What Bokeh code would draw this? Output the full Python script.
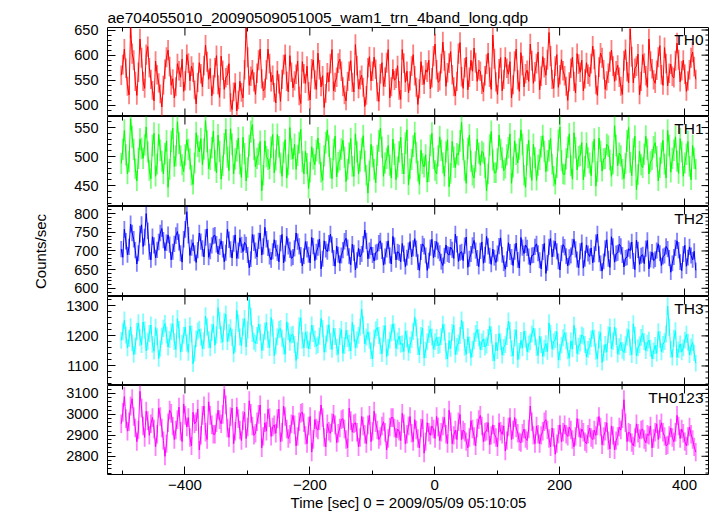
import numpy as np
from bokeh.plotting import figure
from bokeh.layouts import column
from bokeh.models import FixedTicker, LinearAxis, Label, Range1d
from bokeh.embed import file_html
from bokeh.resources import INLINE

# ---------------- data ----------------
title_text = "ae704055010_20090509051005_wam1_trn_4band_long.qdp"
x_label_text = "Time [sec] 0 = 2009/05/09 05:10:05"
y_label_text = "Counts/sec"
band_names = ["TH0", "TH1", "TH2", "TH3", "TH0123"]
band_colors = ["#ff0000", "#00ff00", "#0000ff", "#00ffff", "#ff00ff"]

t_start = -502.0      # time of first bin [s]
bin_width = 2.5       # bin width [s]
exposure = 1.5        # effective exposure used for error bars

th0 = [
    560, 581, 612, 574, 538, 521, 655, 603, 590, 548,
    520, 566, 632, 595, 548, 534, 601, 617, 575, 552,
    530, 509, 588, 561, 545, 523, 497, 540, 572, 596,
    610, 577, 540, 553, 515, 537, 583, 569, 556, 592,
    528, 549, 601, 584, 549, 578, 566, 531, 503, 546,
    585, 563, 537, 579, 620, 587, 552, 574, 519, 541,
    575, 599, 541, 516, 598, 570, 532, 555, 560, 583,
    506, 492, 527, 545, 489, 511, 548, 526, 515, 571,
    655, 596, 540, 558, 571, 547, 522, 564, 590, 612,
    553, 529, 534, 571, 612, 583, 547, 560, 526, 505,
    569, 543, 508, 552, 581, 601, 548, 527, 599, 566,
    535, 549, 562, 588, 519, 504, 587, 563, 544, 578,
    528, 511, 573, 590, 551, 532, 604, 571, 537, 559,
    496, 524, 565, 547, 583, 611, 529, 546, 556, 584,
    592, 568, 537, 521, 509, 548, 568, 589, 546, 527,
    621, 579, 533, 551, 560, 536, 498, 520, 575, 597,
    549, 568, 596, 572, 527, 508, 563, 585, 538, 556,
    585, 611, 515, 537, 572, 550, 554, 579, 530, 512,
    611, 584, 546, 568, 525, 549, 578, 601, 559, 536,
    502, 533, 587, 560, 542, 571, 566, 590, 533, 555,
    598, 622, 571, 546, 549, 583, 626, 589, 538, 565,
    584, 607, 561, 537, 519, 548, 603, 625, 557, 534,
    575, 596, 531, 556, 590, 568, 614, 585, 548, 571,
    568, 542, 527, 559, 582, 604, 556, 532, 640, 593,
    547, 522, 573, 595, 529, 552, 596, 574, 562, 587,
    515, 541, 588, 612, 551, 528, 605, 579, 537, 563,
    570, 548, 622, 589, 544, 567, 583, 606, 531, 558,
    597, 575, 560, 591, 645, 598, 552, 534, 578, 601,
    536, 561, 591, 569, 559, 538, 510, 547, 574, 596,
    548, 525, 603, 582, 566, 590, 529, 553, 585, 562,
    557, 583, 618, 592, 541, 520, 576, 604, 595, 571,
    532, 549, 564, 587, 610, 578, 548, 569, 580, 556,
    538, 522, 589, 611, 567, 545, 652, 597, 545, 574,
    578, 602, 521, 548, 601, 584, 559, 536, 632, 588,
    573, 551, 544, 570, 596, 619, 561, 540, 615, 583,
    539, 564, 582, 558, 555, 589, 624, 591, 547, 569,
    590, 562, 528, 549, 571, 595, 606, 577, 552,
]
th1 = [
    488, 512, 545, 503, 470, 491, 565, 534, 512, 479,
    458, 497, 530, 514, 497, 520, 551, 508, 476, 462,
    519, 540, 466, 487, 538, 511, 492, 470, 505, 527,
    447, 478, 526, 549, 483, 501, 560, 523, 501, 486,
    474, 503, 529, 512, 496, 468, 452, 489, 541, 518,
    508, 531, 486, 513, 562, 526, 479, 495, 515, 544,
    493, 472, 537, 509, 461, 484, 522, 547, 499, 476,
    548, 521, 470, 496, 510, 532, 487, 464, 533, 505,
    458, 481, 519, 543, 555, 512, 482, 497, 504, 526,
    441, 468, 527, 500, 495, 479, 516, 538, 472, 494,
    538, 517, 489, 466, 507, 529, 463, 486, 550, 513,
    496, 521, 478, 502, 524, 547, 491, 470, 509, 488,
    445, 473, 517, 496, 486, 510, 532, 505, 473, 459,
    501, 524, 546, 518, 480, 462, 512, 535, 465, 490,
    494, 513, 528, 499, 457, 478, 506, 531, 483, 466,
    539, 508, 470, 492, 514, 536, 492, 468, 437, 475,
    521, 500, 478, 455, 502, 527, 549, 516, 466, 489,
    497, 519, 485, 463, 530, 504, 460, 482, 508, 533,
    488, 470, 523, 546, 451, 479, 495, 518, 541, 507,
    475, 452, 511, 488, 482, 503, 456, 474, 519, 540,
    497, 476, 470, 501, 534, 511, 489, 466, 508, 529,
    448, 471, 526, 499, 481, 505, 503, 527, 559, 512,
    476, 454, 514, 537, 492, 468, 463, 491, 530, 506,
    485, 509, 506, 481, 441, 470, 520, 543, 494, 472,
    472, 496, 537, 512, 498, 476, 480, 503, 515, 539,
    454, 482, 527, 504, 489, 513, 546, 521, 468, 447,
    503, 528, 482, 459, 521, 498, 459, 485, 495, 517,
    536, 509, 474, 493, 510, 531, 487, 466, 452, 481,
    528, 551, 493, 470, 469, 496, 516, 539, 484, 461,
    541, 515, 477, 500, 502, 524, 460, 483, 523, 498,
    489, 467, 508, 530, 449, 474, 532, 509, 475, 496,
    497, 521, 518, 494, 466, 487, 553, 519, 484, 506,
    501, 478, 462, 488, 527, 550, 490, 467, 513, 535,
    443, 469, 509, 486, 481, 504, 535, 512, 470, 491,
    495, 517, 524, 500, 458, 481, 506, 528, 487, 463,
    545, 519, 473, 497, 511, 534, 492, 471, 531, 508,
    466, 489, 504, 526, 483, 460, 519, 497, 478,
]
th2 = [
    705, 683, 758, 726, 690, 711, 772, 748, 731, 702,
    665, 694, 745, 770, 712, 737, 800, 754, 698, 676,
    738, 715, 682, 703, 724, 748, 760, 729, 701, 722,
    743, 717, 676, 698, 719, 741, 752, 723, 694, 670,
    731, 758, 805, 742, 688, 709, 722, 694, 669, 702,
    748, 725, 707, 684, 736, 759, 683, 699, 715, 740,
    742, 718, 692, 711, 727, 704, 671, 695, 758, 730,
    704, 681, 720, 743, 680, 701, 735, 716, 698, 723,
    716, 689, 655, 678, 744, 722, 701, 684, 727, 748,
    689, 712, 763, 731, 708, 685, 676, 699, 730, 707,
    695, 671, 721, 744, 668, 693, 739, 712, 703, 680,
    684, 707, 748, 725, 712, 689, 660, 686, 725, 704,
    690, 668, 736, 713, 674, 698, 709, 732, 652, 679,
    727, 704, 698, 721, 745, 717, 681, 659, 713, 690,
    667, 688, 702, 726, 734, 709, 686, 663, 718, 695,
    649, 675, 707, 684, 692, 718, 756, 727, 679, 701,
    711, 689, 673, 696, 698, 721, 727, 700, 662, 685,
    704, 727, 688, 665, 739, 714, 676, 698, 695, 671,
    720, 693, 658, 682, 701, 725, 684, 707, 733, 706,
    670, 648, 697, 719, 712, 688, 648, 674, 709, 731,
    682, 705, 725, 701, 694, 671, 661, 687, 716, 692,
    689, 710, 703, 680, 745, 718, 672, 695, 698, 674,
    714, 737, 656, 679, 692, 715, 728, 701, 681, 658,
    700, 724, 667, 690, 739, 712, 687, 664, 705, 682,
    669, 693, 713, 735, 690, 667, 651, 678, 722, 697,
    684, 661, 698, 721, 676, 654, 736, 709, 693, 716,
    708, 685, 662, 688, 689, 711, 719, 694, 675, 652,
    697, 720, 640, 668, 711, 733, 684, 706, 726, 699,
    672, 649, 694, 717, 710, 686, 660, 683, 688, 711,
    731, 704, 677, 655, 699, 722, 654, 679, 716, 693,
    685, 708, 668, 691, 722, 745, 691, 667, 646, 672,
    707, 730, 679, 656, 738, 712, 670, 693, 695, 718,
    712, 689, 657, 681, 683, 706, 701, 724, 673, 650,
    729, 703, 664, 687, 690, 666, 706, 728, 652, 677,
    697, 674, 678, 701, 719, 694, 661, 685, 688, 712,
    705, 681, 643, 667, 684, 708, 727, 702, 670, 647,
    692, 715, 659, 682, 711, 688, 676, 699, 648,
]
th3 = [
    1185, 1214, 1252, 1203, 1160, 1191, 1230, 1177, 1138, 1166,
    1215, 1243, 1194, 1171, 1246, 1219, 1150, 1182, 1208, 1236,
    1172, 1149, 1228, 1197, 1125, 1158, 1199, 1225, 1241, 1203,
    1163, 1188, 1214, 1240, 1181, 1155, 1257, 1221, 1146, 1175,
    1202, 1229, 1176, 1145, 1233, 1206, 1107, 1142, 1190, 1216,
    1222, 1196, 1158, 1184, 1266, 1230, 1187, 1160, 1211, 1238,
    1169, 1203, 1294, 1251, 1204, 1180, 1248, 1272, 1181, 1210,
    1227, 1195, 1140, 1173, 1285, 1242, 1196, 1168, 1230, 1257,
    1163, 1219, 1320, 1264, 1208, 1182, 1175, 1201, 1239, 1212,
    1152, 1179, 1216, 1245, 1188, 1161, 1261, 1226, 1134, 1167,
    1197, 1221, 1224, 1192, 1166, 1139, 1247, 1215, 1179, 1203,
    1205, 1172, 1118, 1151, 1233, 1260, 1185, 1160, 1212, 1187,
    1157, 1184, 1236, 1208, 1190, 1166, 1171, 1199, 1258, 1224,
    1146, 1173, 1209, 1237, 1182, 1155, 1225, 1198, 1163, 1139,
    1198, 1221, 1142, 1168, 1218, 1191, 1176, 1150, 1245, 1209,
    1161, 1187, 1202, 1229, 1289, 1236, 1173, 1196, 1214, 1185,
    1150, 1124, 1193, 1219, 1228, 1201, 1167, 1141, 1207, 1234,
    1131, 1162, 1186, 1210, 1240, 1213, 1159, 1183, 1199, 1172,
    1174, 1148, 1216, 1190, 1145, 1169, 1188, 1215, 1262, 1227,
    1164, 1137, 1201, 1226, 1127, 1153, 1180, 1205, 1223, 1196,
    1156, 1181, 1195, 1168, 1170, 1197, 1238, 1212, 1149, 1123,
    1184, 1158, 1211, 1236, 1138, 1165, 1176, 1201, 1252, 1219,
    1162, 1139, 1197, 1170, 1128, 1156, 1183, 1208, 1221, 1194,
    1154, 1180, 1190, 1163, 1169, 1195, 1232, 1204, 1143, 1117,
    1178, 1151, 1207, 1181, 1136, 1162, 1171, 1198, 1249, 1218,
    1158, 1133, 1194, 1220, 1121, 1149, 1185, 1160, 1216, 1189,
    1147, 1173, 1180, 1206, 1226, 1197, 1161, 1135, 1199, 1171,
    1132, 1159, 1174, 1148, 1243, 1209, 1156, 1181, 1188, 1214,
    1120, 1146, 1169, 1194, 1211, 1184, 1150, 1126, 1183, 1157,
    1235, 1198, 1141, 1166, 1176, 1203, 1199, 1172, 1130, 1155,
    1165, 1190, 1218, 1192, 1148, 1123, 1187, 1211, 1112, 1143,
    1172, 1146, 1204, 1229, 1157, 1182, 1229, 1198, 1139, 1164,
    1178, 1152, 1145, 1171, 1196, 1221, 1163, 1137, 1240, 1203,
    1134, 1160, 1170, 1195, 1208, 1181, 1151, 1176, 1186, 1159,
    1124, 1150, 1168, 1142, 1214, 1188, 1147, 1172, 1181, 1206,
    1299, 1228, 1155, 1129, 1192, 1217, 1129, 1154, 1173, 1147,
    1160, 1186, 1205, 1179, 1137, 1163, 1178, 1144, 1109,
]
th0123 = [
    2955, 3010, 3085, 2980, 2920, 2965, 3040, 3075, 2990, 2935,
    2870, 2925, 3110, 3030, 2945, 2890, 3015, 2970, 2900, 2955,
    2985, 2930, 2845, 2905, 3030, 2990, 2935, 2875, 2800, 2860,
    2960, 3020, 3005, 2945, 2880, 2925, 2975, 3035, 2920, 2870,
    3050, 2995, 2940, 2985, 2890, 2850, 3010, 2955, 2965, 3025,
    2830, 2900, 2995, 3040, 2915, 2880, 3060, 2995, 2950, 2905,
    2905, 2960, 3020, 2975, 2955, 3000, 3120, 3045, 2935, 2890,
    2990, 3030, 2860, 2920, 3035, 2980, 2925, 2875, 2970, 3010,
    2885, 2940, 3065, 3005, 2945, 2900, 2910, 2965, 3000, 3045,
    2840, 2895, 2960, 2920, 3025, 2985, 2895, 2940, 2950, 2910,
    2980, 3025, 2870, 2915, 3040, 2990, 2930, 2885, 2905, 2955,
    2995, 2950, 2850, 2895, 2965, 3005, 3010, 2960, 2900, 2860,
    2945, 2990, 2820, 2880, 2975, 2935, 2925, 2970, 3045, 2985,
    2890, 2845, 2955, 2920, 2910, 2960, 3000, 2950, 2865, 2910,
    2935, 2975, 2980, 2930, 2880, 2840, 3030, 2970, 2915, 2955,
    2960, 2915, 2845, 2890, 2990, 2945, 2905, 2860, 2950, 2995,
    2870, 2920, 3015, 2960, 2925, 2880, 2895, 2945, 2965, 2915,
    2830, 2885, 2940, 2985, 2985, 2935, 2890, 2930, 2920, 2875,
    3005, 2955, 2860, 2905, 2945, 2990, 2910, 2870, 2975, 2925,
    2885, 2840, 2935, 2975, 2815, 2870, 2960, 2915, 2900, 2945,
    2930, 2885, 2990, 2940, 2875, 2915, 2945, 2985, 2905, 2860,
    3020, 2965, 2860, 2900, 2925, 2880, 2965, 3000, 2880, 2925,
    2915, 2870, 2840, 2890, 2970, 2930, 2895, 2850, 2935, 2975,
    2995, 2945, 2870, 2915, 2920, 2960, 2855, 2900, 2950, 2905,
    2890, 2845, 2960, 2920, 2905, 2945, 2825, 2875, 2940, 2985,
    2880, 2925, 2985, 2935, 2910, 2870, 2865, 2910, 2930, 2885,
    2875, 2930, 3040, 2965, 2900, 2860, 2945, 2905, 2860, 2900,
    2920, 2965, 2975, 2925, 2885, 2845, 2935, 2890, 2810, 2860,
    2905, 2950, 2870, 2915, 2950, 2905, 2895, 2940, 2925, 2880,
    2845, 2895, 2980, 2935, 2890, 2930, 2915, 2870, 2860, 2905,
    2935, 2890, 2880, 2925, 2900, 2945, 2990, 2940, 2855, 2895,
    2920, 2960, 2875, 2835, 2945, 2900, 2830, 2875, 2895, 2940,
    2925, 2980, 3070, 2960, 2870, 2915, 2910, 2865, 2850, 2890,
    2955, 2910, 2885, 2925, 2930, 2880, 2865, 2905, 2900, 2945,
    2840, 2885, 2915, 2955, 2880, 2930, 2960, 2915, 2895, 2850,
    2855, 2900, 2935, 2890, 2870, 2915, 2995, 2945, 2885, 2930,
    2910, 2870, 2850, 2895, 2940, 2905, 2880, 2845, 2820,
]
series = [th0, th1, th2, th3, th0123]

x_limits = (-524, 440)
x_major = [-400, -200, 0, 200, 400]
x_minor = [-500, -300, -100, 100, 300]
y_limits = [(478, 655), (414, 569), (578, 819), (1035, 1331), (2713, 3138)]
y_major = [
    [500, 550, 600, 650],
    [450, 500, 550],
    [600, 650, 700, 750, 800],
    [1100, 1200, 1300],
    [2800, 2900, 3000, 3100],
]
y_minor_step = [10, 10, 10, 20, 20]

# ---------------- layout / style ----------------
FONT = "Liberation Sans"
frame_w = 602
frame_hs = [89, 90, 90, 89, 89]
left_border = 107
top_border = 27
bottom_border = 41
MAJ = 8
MIN = 4


def style_axis(ax, size="14.5px"):
    ax.axis_line_color = None
    ax.major_tick_in = MAJ
    ax.major_tick_out = 0
    ax.minor_tick_in = MIN
    ax.minor_tick_out = 0
    ax.major_tick_line_color = "black"
    ax.minor_tick_line_color = "black"
    ax.major_label_text_font = FONT
    ax.major_label_text_font_size = size
    ax.major_label_text_color = "black"
    ax.major_label_standoff = 9
    return ax


def tick_rays(p, xs, ys, angle, length):
    p.ray(x=xs, y=ys, length=length, length_units="screen", angle=angle,
          line_color="black", line_width=1)


figs = []
for k in range(5):
    top = top_border if k == 0 else 0
    bottom = bottom_border if k == 4 else 0
    y0, y1 = y_limits[k]
    p = figure(
        width=left_border + frame_w, height=top + frame_hs[k] + bottom,
        frame_width=frame_w, frame_height=frame_hs[k],
        x_range=Range1d(*x_limits), y_range=Range1d(y0, y1),
        x_axis_location=None, y_axis_location=None,
        output_backend="svg", toolbar_location=None,
        min_border_left=left_border, min_border_right=0,
        min_border_top=top, min_border_bottom=bottom,
        background_fill_color="white", border_fill_color="white",
        outline_line_color="black", outline_line_width=1,
    )
    p.grid.visible = False

    ymin_ticks = list(range(int(np.ceil(y0 / y_minor_step[k]) * y_minor_step[k]),
                            int(y1) + 1, y_minor_step[k]))
    yt = FixedTicker(ticks=y_major[k], minor_ticks=ymin_ticks)
    xt = FixedTicker(ticks=x_major, minor_ticks=x_minor)

    lax = style_axis(LinearAxis(ticker=yt))
    if k == 2:
        lax.axis_label = y_label_text
        lax.axis_label_text_font = FONT
        lax.axis_label_text_font_size = "15px"
        lax.axis_label_text_font_style = "normal"
        lax.axis_label_text_color = "black"
        lax.axis_label_standoff = 22
    p.add_layout(lax, "left")

    # right-hand and top tick marks (inside the frame)
    tick_rays(p, [x_limits[1]] * len(y_major[k]), y_major[k], np.pi, MAJ)
    tick_rays(p, [x_limits[1]] * len(ymin_ticks), ymin_ticks, np.pi, MIN)
    tick_rays(p, x_major, [y1] * len(x_major), -np.pi / 2, MAJ)
    tick_rays(p, x_minor, [y1] * len(x_minor), -np.pi / 2, MIN)

    if k == 4:
        bax = style_axis(LinearAxis(ticker=xt), "15px")
        bax.major_label_overrides = {-400: "\u2212400", -200: "\u2212200"}
        bax.major_label_standoff = 5
        bax.axis_label = x_label_text
        bax.axis_label_text_font = FONT
        bax.axis_label_text_font_size = "15px"
        bax.axis_label_text_font_style = "normal"
        bax.axis_label_text_color = "black"
        bax.axis_label_standoff = 1
        p.add_layout(bax, "below")
    else:
        tick_rays(p, x_major, [y0] * len(x_major), np.pi / 2, MAJ)
        tick_rays(p, x_minor, [y0] * len(x_minor), np.pi / 2, MIN)

    v = np.array(series[k], dtype=float)
    times = t_start + bin_width * np.arange(len(v))
    err = np.sqrt(v / exposure)
    c = band_colors[k]
    p.segment(x0=times, y0=v - err, x1=times, y1=v + err,
              line_color=c, line_alpha=0.5, line_width=1.8)
    p.line(times, v, line_color=c, line_width=1)

    p.add_layout(Label(x=x_limits[1], y=y1, x_offset=-6, y_offset=-3,
                       text=band_names[k], text_align="right", text_baseline="top",
                       text_font=FONT, text_font_size="15.5px", text_color="black"))

    if k == 0:
        p.title.text = title_text
        p.title.align = "left"
        p.title.offset = 0
        p.title.standoff = 4
        p.title.text_font = FONT
        p.title.text_font_size = "15.5px"
        p.title.text_font_style = "normal"
        p.title.text_color = "black"
    figs.append(p)

layout = column(*figs, spacing=0)
open("out.html", "w").write(file_html(layout, INLINE))
